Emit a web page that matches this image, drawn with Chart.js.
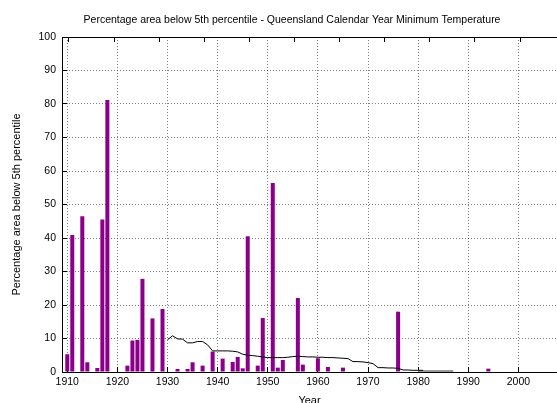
<!DOCTYPE html>
<html>
<head>
<meta charset="utf-8">
<script src="https://cdn.jsdelivr.net/npm/chart.js@4/dist/chart.umd.min.js"></script>
<style>
  html, body { margin: 0; padding: 0; background: #fff; }
  #wrap { width: 557px; height: 403px; }
</style>
</head>
<body>
<div id="wrap"><canvas id="chart" width="557" height="403"></canvas></div>
<script>
const chartTitle = 'Percentage area below 5th percentile - Queensland Calendar Year Minimum Temperature';
const xTitle = 'Year';
const yTitle = 'Percentage area below 5th percentile';

const barYears  = [1910, 1911, 1913, 1914, 1916, 1917, 1918, 1922, 1923, 1924, 1925, 1927, 1929,
                   1932, 1934, 1935, 1937, 1939, 1941, 1943, 1944, 1945, 1946, 1948, 1949,
                   1951, 1952, 1953, 1956, 1957, 1960, 1962, 1965, 1976, 1982, 1994];
const barValues = [5.3, 40.9, 46.5, 2.9, 1.2, 45.5, 81.2, 1.9, 9.4, 9.6, 27.8, 16.0, 18.8,
                   0.9, 0.9, 2.9, 1.9, 6.1, 4.0, 3.0, 4.5, 1.1, 40.5, 1.9, 16.1,
                   56.4, 1.3, 3.6, 22.1, 2.2, 4.1, 1.5, 1.3, 18.0, 0.3, 1.0];

// running mean (black line)
const lineYears  = [1930, 1931, 1932, 1933, 1934, 1935, 1936, 1937, 1938, 1939,
                    1940, 1941, 1942, 1943, 1944, 1945, 1946, 1947, 1948, 1949,
                    1950, 1951, 1952, 1953, 1954, 1955, 1956, 1957, 1958, 1959,
                    1960, 1961, 1962, 1963, 1964, 1965, 1966, 1967, 1968, 1969,
                    1970, 1971, 1972, 1973, 1974, 1975, 1976, 1977, 1978, 1979,
                    1980, 1981];
const lineValues = [9.6, 10.8, 9.9, 9.8, 8.7, 8.7, 9.1, 9.1, 8.1, 6.3,
                    6.3, 6.3, 6.3, 6.2, 6.0, 5.3, 5.0, 4.9, 4.7, 4.5,
                    4.3, 4.3, 4.3, 4.3, 4.4, 4.6, 4.7, 4.6, 4.5, 4.5,
                    4.4, 4.4, 4.3, 4.3, 4.2, 4.1, 4.0, 3.1, 3.1, 3.0,
                    2.8, 2.5, 1.3, 1.3, 1.2, 1.2, 1.1, 0.6, 0.6, 0.5,
                    0.5, 0.5];

// grey tail
const tailYears  = [1980, 1987];
const tailValues = [0.3, 0.3];

const xTicks = [1910, 1920, 1930, 1940, 1950, 1960, 1970, 1980, 1990, 2000];
const yTicks = [0, 10, 20, 30, 40, 50, 60, 70, 80, 90, 100];

const FONT = '"Liberation Sans", Arial, sans-serif';
const GRID = 'rgba(0,0,0,0.5)';

function pairs(xs, ys) {
    return xs.map((x, i) => ({ x, y: ys[i] }));
}

const titlePlugin = {
    id: 'plotTitle',
    afterDraw(chart) {
        const ctx = chart.ctx;
        ctx.save();
        ctx.font = '10.5px ' + FONT;
        ctx.fillStyle = '#000';
        ctx.textAlign = 'center';
        ctx.textBaseline = 'middle';
        ctx.fillText(chartTitle, 292, 20);
        ctx.restore();
    },
};

new Chart(document.getElementById('chart'), {
    type: 'bar',
    data: {
        datasets: [
            {
                type: 'line',
                data: pairs(lineYears, lineValues),
                borderColor: '#000',
                borderWidth: 1,
                pointRadius: 0,
                tension: 0,
                fill: false,
                order: 0,
            },
            {
                type: 'line',
                data: pairs(tailYears, tailValues),
                borderColor: '#9a9a9a',
                borderWidth: 2,
                pointRadius: 0,
                fill: false,
                order: 1,
            },
            {
                data: pairs(barYears, barValues),
                backgroundColor: '#8b008b',
                borderWidth: 0,
                barPercentage: 0.8,
                categoryPercentage: 1,
                order: 2,
            },
        ],
    },
    options: {
        responsive: false,
        animation: false,
        layout: { padding: { top: 37, left: 0, right: 0, bottom: 0 } },
        plugins: { legend: { display: false }, tooltip: { enabled: false }, title: { display: false } },
        scales: {
            x: {
                type: 'linear',
                position: 'bottom',
                min: 1908.95,
                max: 2007.7,
                offset: false,
                afterBuildTicks: s => { s.ticks = xTicks.map(v => ({ value: v })); },
                afterFit: s => { s.height = 31; },
                ticks: {
                    color: '#000',
                    font: { family: FONT, size: 10.5 },
                    padding: 9,
                    maxRotation: 0,
                    callback: v => String(v),
                },
                grid: { color: GRID, drawTicks: true, tickLength: -5, tickColor: '#000', offset: false },
                border: { color: '#000', width: 1, dash: [1, 2] },
                title: {
                    display: true,
                    text: xTitle,
                    color: '#000',
                    font: { family: FONT, size: 11 },
                    padding: { top: 0, bottom: -5 },
                },
            },
            x2: {
                type: 'linear',
                position: 'top',
                min: 1908.95,
                max: 2007.7,
                afterBuildTicks: s => { s.ticks = xTicks.map(v => ({ value: v })); },
                afterFit: s => { s.height = 0; },
                ticks: { display: false },
                grid: { drawOnChartArea: false, drawTicks: true, tickLength: -5, tickColor: '#000' },
                border: { color: '#000', width: 1 },
            },
            y: {
                min: 0,
                max: 100,
                afterBuildTicks: s => { s.ticks = yTicks.map(v => ({ value: v })); },
                afterFit: s => { s.width = 62; },
                ticks: {
                    color: '#000',
                    font: { family: FONT, size: 10.5 },
                    padding: 11,
                },
                grid: { color: GRID, drawTicks: true, tickLength: -5, tickColor: '#000' },
                border: { color: '#000', width: 1, dash: [1, 2] },
                title: {
                    display: true,
                    text: yTitle,
                    color: '#000',
                    font: { family: FONT, size: 11 },
                    padding: { top: 10, bottom: 0 },
                },
            },
        },
    },
    plugins: [titlePlugin],
});
</script>
</body>
</html>
